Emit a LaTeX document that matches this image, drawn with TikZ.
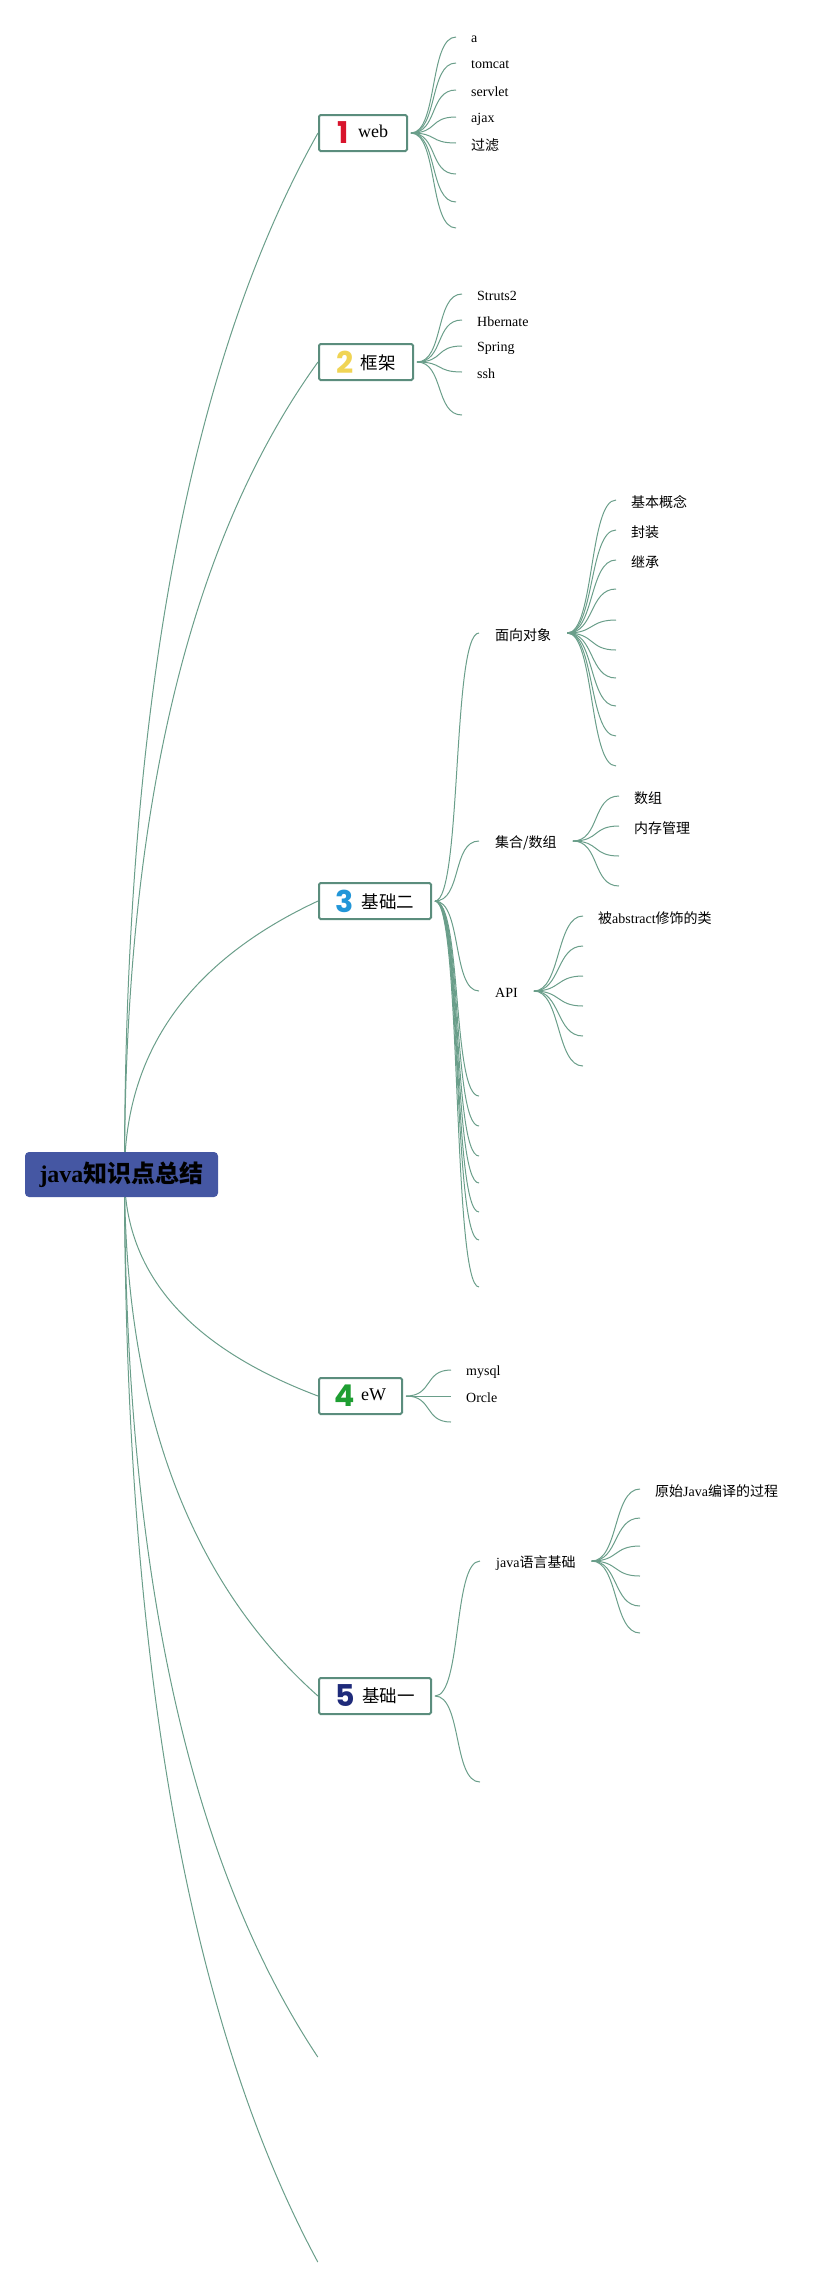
\documentclass[tikz,border=0pt]{standalone}
\usepackage{fontspec}
\setmainfont{Liberation Serif}
\newfontfamily\cjk{Noto Sans CJK SC}
\newfontfamily\digitfont{Poppins}
\usetikzlibrary{calc,backgrounds}
\definecolor{linkc}{HTML}{6A9E8A}
\definecolor{boxc}{HTML}{5B8D7D}
\definecolor{rootc}{HTML}{4557A3}
\definecolor{dA}{HTML}{D8142C}
\definecolor{dB}{HTML}{F0D454}
\definecolor{dC}{HTML}{2296D8}
\definecolor{dD}{HTML}{1E9E32}
\definecolor{dE}{HTML}{1E2A7A}
\tikzset{
  link/.style={draw=linkc, line width=1pt},
  rootbox/.style={fill=rootc, rounded corners=4pt, minimum width=193pt, minimum height=45pt, inner sep=0pt, font=\fontsize{24}{26}\selectfont},
  topicbox/.style={draw=boxc, line width=2pt, rounded corners=1.5pt, fill=white, minimum height=36pt, inner xsep=0pt, anchor=west, font=\fontsize{18}{20}\selectfont},
  leaftext/.style={anchor=west, inner xsep=15pt, inner ysep=0pt, yshift=-2pt, font=\fontsize{14}{16}\selectfont},
  midtext/.style={anchor=west, inner xsep=16pt, inner ysep=0pt, yshift=-2pt, font=\fontsize{14}{16}\selectfont},
  endpt/.style={inner sep=0pt, minimum size=0pt}
}
\newcommand\mydg[3]{\raisebox{-#3pt}{\digitfont\bfseries\fontsize{30}{30}\selectfont\color{#1}#2}}
\newcommand\mycj[1]{{\cjk\fontsize{17.5}{20}\selectfont #1}}
\newcommand\myleaf[5]{\coordinate (#1) at (#2,#3); \node[#4] (#1t) at (#1) {#5};}
\newcommand\mysconn[2]{\draw[link] (#1) .. controls ($(#1)+(27pt,0pt)$) and ($(#2)+(-27pt,0pt)$) .. (#2);}
\begin{document}
\begin{tikzpicture}[x=1pt,y=-1pt]
\useasboundingbox (0,0) rectangle (838,2287);
% root
\node[rootbox] (root) at (121.5,1174.5) {\textbf{java}{\cjk\bfseries 知识点总结}};
\coordinate (o0) at ([xshift=3pt]root.center);
% main topics
\node[topicbox, minimum width=88pt] (n1) at (318,133) {\mydg{dA}{1}{6}\hspace{9pt}web};
\node[topicbox, minimum width=94pt] (n2) at (318,362) {\mydg{dB}{2}{4}\hspace{7pt}\mycj{框架}};
\node[topicbox, minimum width=112pt] (n3) at (318,901) {\mydg{dC}{3}{4}\hspace{8pt}\mycj{基础二}};
\node[topicbox, minimum width=83pt] (n4) at (318,1396) {\mydg{dD}{4}{6}\hspace{6pt}eW};
\node[topicbox, minimum width=112pt] (n5) at (318,1696) {\mydg{dE}{5}{4}\hspace{7pt}\mycj{基础一}};
\node[endpt] (e6) at (318,2057) {};
\node[endpt] (e7) at (318,2262) {};
\coordinate (o1) at ([xshift=3pt]n1.east);
\coordinate (o2) at ([xshift=3pt]n2.east);
\coordinate (o3) at ([xshift=3pt]n3.east);
\coordinate (o4) at ([xshift=3pt]n4.east);
\coordinate (o5) at ([xshift=3pt]n5.east);
% web leaves
\myleaf{l1}{456}{37}{leaftext}{a}
\myleaf{l2}{456}{63}{leaftext}{tomcat}
\myleaf{l3}{456}{90}{leaftext}{servlet}
\myleaf{l4}{456}{117}{leaftext}{ajax}
\myleaf{l5}{456}{143}{leaftext}{{\cjk 过滤}}
\coordinate (l6) at (456,174);
\coordinate (l7) at (456,202);
\coordinate (l8) at (456,228);
% framework leaves
\myleaf{k1}{462}{294}{leaftext}{Struts2}
\myleaf{k2}{462}{320}{leaftext}{Hbernate}
\myleaf{k3}{462}{346}{leaftext}{Spring}
\myleaf{k4}{462}{372}{leaftext}{ssh}
\coordinate (k5) at (462,415);
% basics two children
\myleaf{m1}{479}{633}{midtext}{{\cjk 面向对象}}
\myleaf{m2}{479}{841}{midtext}{{\cjk 集合/数组}}
\myleaf{m3}{479}{991}{midtext}{API}
\coordinate (m4) at (479,1096);
\coordinate (m5) at (479,1126);
\coordinate (m6) at (479,1156);
\coordinate (m7) at (479,1183);
\coordinate (m8) at (479,1212);
\coordinate (m9) at (479,1240);
\coordinate (m10) at (479,1287);
\coordinate (om1) at (m1t.east |- m1);
\coordinate (om2) at (m2t.east |- m2);
\coordinate (om3) at (m3t.east |- m3);
% OOP leaves
\myleaf{a1}{616}{500}{leaftext}{{\cjk 基本概念}}
\myleaf{a2}{616}{530}{leaftext}{{\cjk 封装}}
\myleaf{a3}{616}{560}{leaftext}{{\cjk 继承}}
\coordinate (a4) at (616,589);
\coordinate (a5) at (616,620);
\coordinate (a6) at (616,650);
\coordinate (a7) at (616,678);
\coordinate (a8) at (616,706);
\coordinate (a9) at (616,736);
\coordinate (a10) at (616,766);
% collections leaves
\myleaf{b1}{619}{796}{leaftext}{{\cjk 数组}}
\myleaf{b2}{619}{826}{leaftext}{{\cjk 内存管理}}
\coordinate (b3) at (619,856);
\coordinate (b4) at (619,886);
% API leaves
\myleaf{c1}{583}{916}{leaftext}{{\cjk 被}abstract{\cjk 修饰的类}}
\coordinate (c2) at (583,946);
\coordinate (c3) at (583,976);
\coordinate (c4) at (583,1006);
\coordinate (c5) at (583,1036);
\coordinate (c6) at (583,1066);
% eW leaves
\myleaf{f1}{451}{1370}{leaftext}{mysql}
\myleaf{f2}{451}{1396}{leaftext}{Orcle}
\coordinate (f3) at (451,1422);
% basics one children
\myleaf{g1}{480}{1561}{midtext}{java{\cjk 语言基础}}
\coordinate (g2) at (480,1782);
\coordinate (og1) at (g1t.east |- g1);
\myleaf{h1}{640}{1489}{leaftext}{{\cjk 原始}Java{\cjk 编译的过程}}
\coordinate (h2) at (640,1518);
\coordinate (h3) at (640,1546);
\coordinate (h4) at (640,1576);
\coordinate (h5) at (640,1606);
\coordinate (h6) at (640,1633);
% connectors
\begin{pgfonlayer}{background}
\foreach \t in {n1,n2,n3,n4,n5,e6,e7}{
  \coordinate (q) at ($(o0)!0.67!(o0 |- \t.west)$);
  \draw[link] (o0) .. controls ($(o0)!0.6667!(q)$) and ($(\t.west)!0.6667!(q)$) .. (\t.west);
}
\foreach \e in {l1,l2,l3,l4,l5,l6,l7,l8}{\mysconn{o1}{\e}}
\foreach \e in {k1,k2,k3,k4,k5}{\mysconn{o2}{\e}}
\foreach \e in {m1,m2,m3,m4,m5,m6,m7,m8,m9,m10}{\mysconn{o3}{\e}}
\foreach \e in {a1,a2,a3,a4,a5,a6,a7,a8,a9,a10}{\mysconn{om1}{\e}}
\foreach \e in {b1,b2,b3,b4}{\mysconn{om2}{\e}}
\foreach \e in {c1,c2,c3,c4,c5,c6}{\mysconn{om3}{\e}}
\foreach \e in {f1,f2,f3}{\mysconn{o4}{\e}}
\foreach \e in {g1,g2}{\mysconn{o5}{\e}}
\foreach \e in {h1,h2,h3,h4,h5,h6}{\mysconn{og1}{\e}}
\end{pgfonlayer}
\end{tikzpicture}
\end{document}
